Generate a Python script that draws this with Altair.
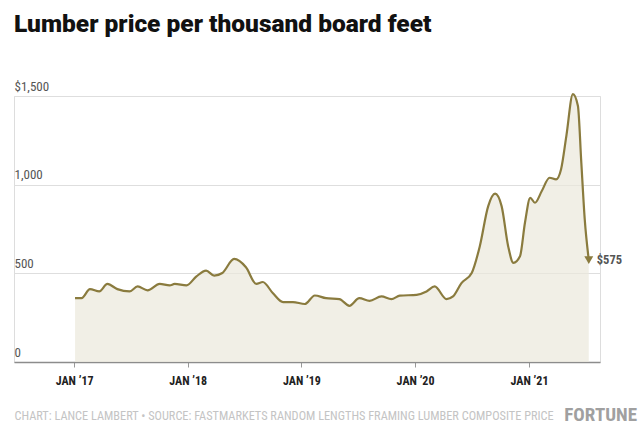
import altair as alt
import pandas as pd

dates = [
    "2017-01-04", "2017-01-25", "2017-02-21", "2017-03-23", "2017-04-18", "2017-05-20",
    "2017-06-28", "2017-07-24", "2017-08-25", "2017-10-03", "2017-11-04", "2017-11-20",
    "2017-12-28", "2018-01-29", "2018-03-01", "2018-03-27", "2018-04-22", "2018-05-30",
    "2018-07-07", "2018-08-09", "2018-08-30", "2018-10-01", "2018-11-03", "2018-12-05",
    "2019-01-12", "2019-02-13", "2019-03-21", "2019-05-03", "2019-06-04", "2019-07-06",
    "2019-08-08", "2019-09-15", "2019-10-17", "2019-11-13", "2020-01-06", "2020-02-07",
    "2020-03-04", "2020-04-11", "2020-05-02", "2020-05-29", "2020-07-01", "2020-07-27",
    "2020-08-23", "2020-09-14", "2020-10-05", "2020-10-26", "2020-11-12", "2020-12-03",
    "2020-12-19", "2021-01-05", "2021-01-20", "2021-02-11", "2021-03-08", "2021-03-29",
    "2021-04-14", "2021-05-01", "2021-05-22", "2021-06-07", "2021-06-18", "2021-06-29",
    "2021-07-12",
]
prices = [
    360, 360, 411, 398, 440, 411,
    398, 426, 404, 440, 432, 440,
    432, 483, 515, 487, 502, 581,
    534, 441, 451, 389, 338, 338,
    327, 375, 360, 355, 317, 360,
    345, 370, 355, 374, 379, 398,
    426, 355, 370, 445, 502, 653,
    879, 949, 879, 653, 559, 596,
    785, 926, 898, 964, 1039, 1030,
    1087, 1275, 1511, 1445, 1124, 804,
    575,
]
y_ticks = [0, 500, 1000, 1500]
x_tick_years = [2017, 2018, 2019, 2020, 2021]
title_text = "Lumber price per thousand board feet"
footer_text = "CHART: LANCE LAMBERT \u2022 SOURCE: FASTMARKETS RANDOM LENGTHS FRAMING LUMBER COMPOSITE PRICE"
brand_text = "FORTUNE"
end_label = "$575"

df = pd.DataFrame({"date": dates, "price": prices})
last = df.tail(1).assign(label=end_label)

LINE = "#8a7b3e"
FILL = "#ebe8dc"
COND = "Roboto Condensed, Liberation Sans Narrow, Roboto, sans-serif"

xscale = alt.Scale(
    type="utc",
    domain=[alt.DateTime(year=2016, month=6, date=22, utc=True),
            alt.DateTime(year=2021, month=8, date=17, utc=True)],
)
yscale = alt.Scale(domain=[0, 1500], nice=False)

xaxis = alt.Axis(
    values=[alt.DateTime(year=y, month=1, date=1, utc=True) for y in x_tick_years],
    labelExpr="'JAN \u2019' + utcFormat(datum.value, '%y')",
    labelFont=COND, labelFontSize=12, labelFontWeight="bold", labelColor="#222",
    labelPadding=8, tickSize=5, tickColor="#999", tickWidth=1,
    domainColor="#8c8c8c", domainWidth=1.5, grid=False,
    title=footer_text, titleFont=COND, titleFontSize=12.3, titleFontWeight="normal",
    titleColor="#c4c4c4", titleAnchor="start", titleAlign="left", titleX=0, titleY=53,
    titleBaseline="middle",
)
yaxis = alt.Axis(
    values=y_ticks,
    labelExpr="datum.value == 1500 ? '$1,500' : format(datum.value, ',')",
    labelAlign="left", labelBaseline="alphabetic", labelPadding=0, labelOffset=-6,
    labelFont=COND, labelFontSize=13, labelColor="#555",
    tickSize=0, domain=False, grid=True, gridColor="#dedede", gridWidth=1,
    title=None,
)

base = alt.Chart(df)

area = base.mark_area(
    interpolate="monotone", color=FILL, line={"color": LINE, "strokeWidth": 2.2}
).encode(
    x=alt.X("date:T", scale=xscale, axis=xaxis),
    y=alt.Y("price:Q", scale=yscale, axis=yaxis),
)

arrow = alt.Chart(last).mark_point(
    shape="triangle-down", filled=True, color=LINE, size=80, opacity=1
).encode(x=alt.X("date:T", scale=xscale), y=alt.Y("price:Q", scale=yscale))

endtxt = alt.Chart(last).mark_text(
    align="left", baseline="middle", dx=8, font=COND, fontSize=12.5,
    fontWeight="bold", color="#555"
).encode(x=alt.X("date:T", scale=xscale), y=alt.Y("price:Q", scale=yscale), text="label:N")

brand = alt.Chart(pd.DataFrame({"t": [brand_text]})).mark_text(
    align="right", baseline="middle", font=COND, fontSize=19, fontWeight="bold",
    color="#a0a0a0"
).encode(x=alt.value(623), y=alt.value(319), text="t:N")

chart = alt.layer(area, arrow, endtxt, brand).properties(
    width=586, height=266,
    autosize=alt.AutoSizeParams(type="none"),
    padding={"left": 14, "top": 96, "right": 44, "bottom": 72},
    title=alt.TitleParams(
        title_text, anchor="start", frame="group", font="Roboto", fontSize=24.5,
        fontWeight=900, color="#111", offset=24, baseline="alphabetic",
    ),
).configure_view(stroke=None).configure(background="white")

chart.save("out.html", embed_options={"renderer": "svg", "actions": False})
